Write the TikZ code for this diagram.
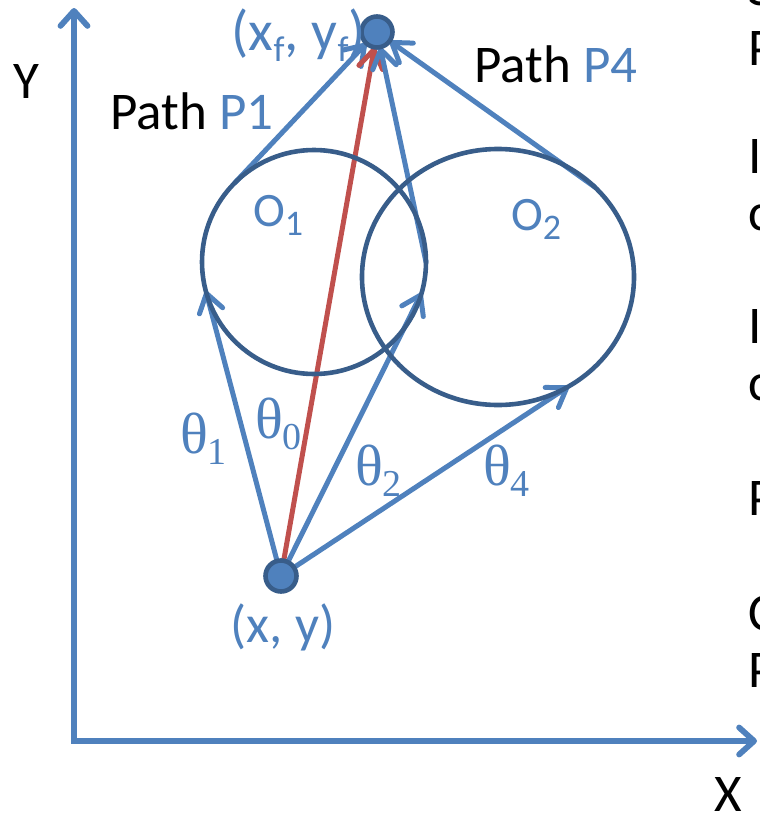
\documentclass[tikz,border=0pt]{standalone}
\usepackage{fontspec}
\setmainfont{Carlito}
\newfontfamily\tms{Liberation Serif}
\usetikzlibrary{arrows.meta,shapes.geometric,backgrounds}
\definecolor{ablue}{HTML}{4F81BD}
\definecolor{dblue}{HTML}{385D8A}
\definecolor{ared}{HTML}{C0504D}
\newcommand\txtfont{\fontsize{53}{62}\selectfont}
\newcommand\sbs[1]{\raisebox{-0.2em}{\fontsize{36}{42}\selectfont #1}}
\newcommand\tha[1]{{\tms\fontsize{58}{66}\selectfont θ\raisebox{-11pt}{\fontsize{38}{44}\selectfont #1}}}
\begin{document}
\begin{tikzpicture}[x=1pt,y=-1pt,
  arrtip/.style={-{Straight Barb[length=18pt,width=24pt,round]}},
  route/.style={draw=ablue,line width=5pt,line cap=round,arrtip},
  redroute/.style={draw=ared,line width=5pt,line cap=round,arrtip},
  ring/.style={draw=dblue,line width=4.6pt,inner sep=0pt,outer sep=0pt},
  pdot/.style={circle,fill=ablue,draw=dblue,line width=4.6pt,minimum size=31pt,inner sep=0pt,outer sep=0pt},
  lbl/.style={inner sep=0pt,text=ablue,font=\txtfont},
  blk/.style={inner sep=0pt,text=black,font=\txtfont}]
\useasboundingbox (0,0) rectangle (760,822);

% axes
\coordinate (ytop) at (74,8);
\coordinate (orig) at (74,741);
\coordinate (xend) at (757,741);
\draw[ablue,line width=5.8pt,{Straight Barb[length=15pt,width=27pt,round]}-{Straight Barb[length=15pt,width=27pt,round]}] (ytop) -- (orig) -- (xend);
\node[blk,anchor=base] (ylab) at (26,98) {Y};
\node[blk,anchor=base] (xlab) at (728,811) {X};

% obstacles
\node[ring,circle,minimum size=224pt] (O1) at (314,262) {};
\node[ring,ellipse,minimum width=272pt,minimum height=256pt] (O2) at (498,277) {};
\node[lbl,anchor=base west,font=\fontsize{48}{56}\selectfont] (o1lab) at (253,226) {O\sbs{1}};
\node[lbl,anchor=base west,font=\fontsize{48}{56}\selectfont] (o2lab) at (511,230) {O\sbs{2}};

% points
\node[pdot] (start) at (281,576) {};
\node[pdot] (goal) at (377,32) {};

\begin{pgfonlayer}{background}
\draw[route] (start.center) -- (O1.195.7);
\draw[route] (O1.135.7) -- (goal);
\draw[redroute] (start.center) -- (goal);
\draw[route] (start.center) -- (O1.-16.6);
\draw[route] (O1.0) -- (goal);
\draw[route] (start.center) -- (O2.-57.8);
\draw[route] (O2.43.5) -- (goal);
\end{pgfonlayer}

% labels
\node[lbl,anchor=base east,font=\fontsize{57}{66}\selectfont] (glab) at (366,50) {(x\sbs{f}, y\sbs{f})};
\node[lbl,anchor=base] (slab) at (283,642) {(x, y)};
\node[blk,anchor=base] (p1) at (192,129) {Path \textcolor{ablue}{P1}};
\node[blk,anchor=base] (p4) at (556,82) {Path \textcolor{ablue}{P4}};
\node[lbl,anchor=base west] (t1) at (180,453) {\tha{1}};
\node[lbl,anchor=base west] (t0) at (255,438) {\tha{0}};
\node[lbl,anchor=base west] (t2) at (355,485) {\tha{2}};
\node[lbl,anchor=base west] (t4) at (483,485) {\tha{4}};

% clipped text at right edge
\begin{scope}
\clip (0,0) rectangle (760,822);
\node[blk,anchor=base west] (r0) at (748,5) {S};
\node[blk,anchor=base west] (r1) at (748,65) {P};
\node[blk,anchor=base west] (r2) at (748,173) {I};
\node[blk,anchor=base west] (r3) at (748,230) {c};
\node[blk,anchor=base west] (r4) at (748,343) {I};
\node[blk,anchor=base west] (r5) at (748,400) {c};
\node[blk,anchor=base west] (r6) at (748,515) {P};
\node[blk,anchor=base west] (r7) at (748,630) {C};
\node[blk,anchor=base west] (r8) at (748,687) {P};
\end{scope}
\end{tikzpicture}
\end{document}
